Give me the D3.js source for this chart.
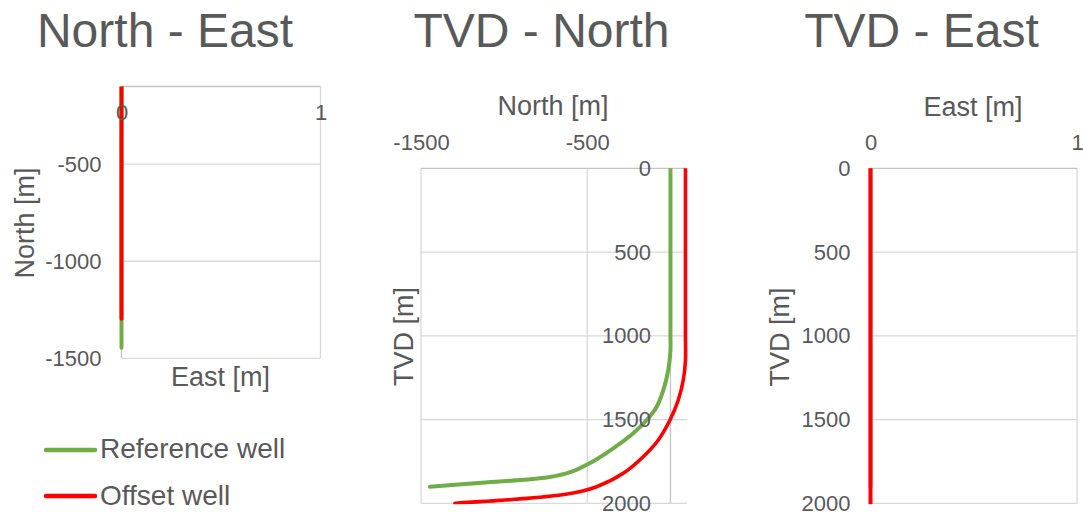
<!DOCTYPE html>
<html>
<head>
<meta charset="utf-8">
<script src="https://cdn.jsdelivr.net/npm/d3@7"></script>
<style>
  body { margin: 0; background: #fff; }
  text { font-family: "Liberation Sans", Arial, sans-serif; fill: #595959; }
</style>
</head>
<body>
<svg id="chart" width="1083" height="512"></svg>
<script>
// well names / colours
const wellNames  = ["Reference well", "Offset well"];
const wellColors = ["#70ad47", "#ff0000"];

// reference well survey
const refTVD   = [0, 500, 1000, 1085, 1204, 1324, 1423, 1503, 1582, 1672, 1752, 1811, 1845, 1877, 1901];
const refNorth = [0, 0, 0, 0, -13, -43, -83, -143, -224, -344, -470, -594, -735, -1135, -1446];
const refEast  = [0, 0, 0, 0, 0, 0, 0, 0, 0, 0, 0, 0, 0, 0, 0];

// offset well survey
const offTVD   = [0, 500, 1000, 1150, 1264, 1383, 1503, 1622, 1722, 1821, 1901, 1945, 1976, 2000];
const offNorth = [90, 90, 90, 90, 77, 47, -3, -73, -164, -284, -444, -620, -935, -1296];
const offEast  = [0, 0, 0, 0, 0, 0, 0, 0, 0, 0, 0, 0, 0, 0];

// tick labels
const neNorthTicks = [-500, -1000, -1500];
const eastTicks    = [0, 1];
const northTicks   = [-1500, -500];
const tvdTicks     = [0, 500, 1000, 1500, 2000];

const wells = [
  { name: wellNames[0], color: wellColors[0], sw: 4,
    pts: refTVD.map((t, i) => ({ tvd: t, north: refNorth[i], east: refEast[i] })) },
  { name: wellNames[1], color: wellColors[1], sw: 3.6,
    pts: offTVD.map((t, i) => ({ tvd: t, north: offNorth[i], east: offEast[i] })) }
];

const svg = d3.select("#chart");
const defs = svg.append("defs");
const GRID = "#d9d9d9";
const AXIS = "#c4c4c4";
const TICK_FS = 22;
const fmt = d => String(d);

const panels = [
  {
    id: "ne", title: "North - East", titleX: 165,
    x: d3.scaleLinear().domain([0, 1]).range([121.5, 320.5]),
    y: d3.scaleLinear().domain([-1500, -100]).range([358.3, 86.5]),
    xKey: "east", yKey: "north",
    hGrid: [-500, -1000, -1500], vGrid: [1],
    axisX: 0, axisY: -100
  },
  {
    id: "tn", title: "TVD - North", titleX: 541.5,
    x: d3.scaleLinear().domain([-1500, 100]).range([421, 687.1]),
    y: d3.scaleLinear().domain([0, 2000]).range([168.3, 503.3]),
    xKey: "north", yKey: "tvd",
    hGrid: [500, 1000, 1500, 2000], vGrid: [-1500, -500],
    axisX: 0, axisY: 0
  },
  {
    id: "te", title: "TVD - East", titleX: 921.5,
    x: d3.scaleLinear().domain([0, 1]).range([870.5, 1077]),
    y: d3.scaleLinear().domain([0, 2000]).range([168.3, 503.3]),
    xKey: "east", yKey: "tvd",
    hGrid: [500, 1000, 1500, 2000], vGrid: [1],
    axisX: 0, axisY: 0
  }
];

function styleAxis(g, size) {
  g.attr("font-size", size).attr("font-family", null);
  g.select(".domain").remove();
  g.selectAll("text").attr("fill", "#595959");
}

panels.forEach(p => {
  const [x0, x1] = p.x.range();
  const [y0, y1] = p.y.range();
  const g = svg.append("g");

  // title
  svg.append("text")
    .attr("x", p.titleX).attr("y", 47)
    .attr("text-anchor", "middle")
    .attr("font-size", 48)
    .text(p.title);

  // gridlines
  g.selectAll("line.h").data(p.hGrid).enter().append("line")
    .attr("x1", x0).attr("x2", x1)
    .attr("y1", d => p.y(d)).attr("y2", d => p.y(d))
    .attr("stroke", GRID).attr("stroke-width", 1.3);
  g.selectAll("line.v").data(p.vGrid).enter().append("line")
    .attr("y1", y0).attr("y2", y1)
    .attr("x1", d => p.x(d)).attr("x2", d => p.x(d))
    .attr("stroke", GRID).attr("stroke-width", 1.3);

  // axis lines
  g.append("line")
    .attr("x1", x0).attr("x2", x1)
    .attr("y1", p.y(p.axisY)).attr("y2", p.y(p.axisY))
    .attr("stroke", AXIS).attr("stroke-width", 1.3);
  g.append("line")
    .attr("x1", p.x(p.axisX)).attr("x2", p.x(p.axisX))
    .attr("y1", y0).attr("y2", y1)
    .attr("stroke", AXIS).attr("stroke-width", 1.3);

  // clip
  defs.append("clipPath").attr("id", "clip-" + p.id)
    .append("rect")
    .attr("x", x0 - 3).attr("y", Math.min(y0, y1))
    .attr("width", x1 - x0 + 4).attr("height", Math.abs(y0 - y1) + 1);

  const line = d3.line()
    .x(d => p.x(d[p.xKey]))
    .y(d => p.y(d[p.yKey]))
    .curve(d3.curveCatmullRom.alpha(0.5));

  const lg = svg.append("g").attr("clip-path", `url(#clip-${p.id})`);
  wells.forEach(w => {
    lg.append("path")
      .datum(w.pts)
      .attr("d", line)
      .attr("fill", "none")
      .attr("stroke", w.color)
      .attr("stroke-width", p.xKey === "east" ? 4 : w.sw)
      .attr("stroke-linecap", "round")
      .attr("stroke-linejoin", "round");
  });
});

// ---- axes ----
const [ne, tn, te] = panels;

svg.append("g")
  .attr("transform", `translate(${ne.x(0)},0)`)
  .call(d3.axisLeft(ne.y).tickValues(neNorthTicks).tickFormat(fmt).tickSize(0).tickPadding(20))
  .call(g => styleAxis(g, TICK_FS));
svg.append("g")
  .attr("transform", `translate(0,${ne.y(-100)})`)
  .call(d3.axisBottom(ne.x).tickValues(eastTicks).tickFormat(fmt).tickSize(0).tickPadding(17.5))
  .call(g => styleAxis(g, TICK_FS));

svg.append("g")
  .attr("transform", `translate(0,${tn.y(0)})`)
  .call(d3.axisTop(tn.x).tickValues(northTicks).tickFormat(fmt).tickSize(0).tickPadding(18.5))
  .call(g => styleAxis(g, TICK_FS));
svg.append("g")
  .attr("transform", `translate(${tn.x(0)},0)`)
  .call(d3.axisLeft(tn.y).tickValues(tvdTicks).tickFormat(fmt).tickSize(0).tickPadding(19.5))
  .call(g => styleAxis(g, TICK_FS));

svg.append("g")
  .attr("transform", `translate(0,${te.y(0)})`)
  .call(d3.axisTop(te.x).tickValues(eastTicks).tickFormat(fmt).tickSize(0).tickPadding(18.5))
  .call(g => styleAxis(g, TICK_FS));
svg.append("g")
  .attr("transform", `translate(${te.x(0)},0)`)
  .call(d3.axisLeft(te.y).tickValues(tvdTicks).tickFormat(fmt).tickSize(0).tickPadding(20))
  .call(g => styleAxis(g, TICK_FS));

// ---- axis titles ----
const axisTitles = [
  { text: "North [m]", x: 33.5, y: 223, rot: true },
  { text: "East [m]",  x: 220.5, y: 385.5, rot: false },
  { text: "North [m]", x: 553, y: 115, rot: false },
  { text: "TVD [m]",   x: 413, y: 336.5, rot: true },
  { text: "East [m]",  x: 973, y: 116, rot: false },
  { text: "TVD [m]",   x: 789, y: 337, rot: true }
];
axisTitles.forEach(t => {
  svg.append("text")
    .attr("text-anchor", "middle")
    .attr("font-size", 27)
    .attr("transform", t.rot ? `translate(${t.x},${t.y}) rotate(-90)` : `translate(${t.x},${t.y})`)
    .text(t.text);
});

// ---- legend ----
const legendY = [450, 496];
const legendTextY = [458, 505];
wells.forEach((w, i) => {
  svg.append("line")
    .attr("x1", 46).attr("x2", 95)
    .attr("y1", legendY[i]).attr("y2", legendY[i])
    .attr("stroke", w.color).attr("stroke-width", 4.5)
    .attr("stroke-linecap", "round");
  svg.append("text")
    .attr("x", 100).attr("y", legendTextY[i])
    .attr("font-size", 28)
    .text(w.name);
});
</script>
</body>
</html>
